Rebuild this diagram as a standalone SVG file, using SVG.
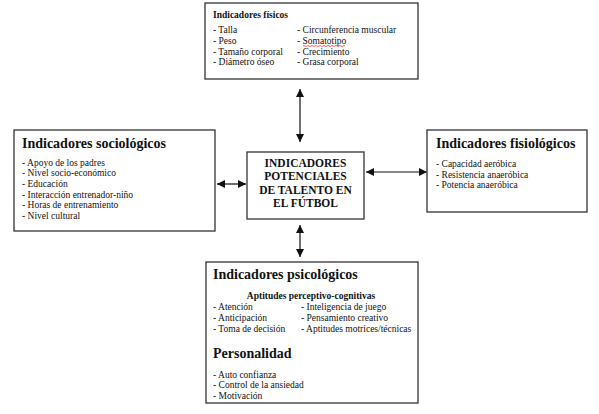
<svg xmlns="http://www.w3.org/2000/svg" width="599" height="414" viewBox="0 0 599 414">
<defs>
<style>
.box{fill:#fff;stroke:#333;stroke-width:1.3}
text{font-family:"Liberation Serif","Times New Roman",serif;fill:#111}
.it{font-size:9.5px}
.t1{font-size:14px;font-weight:bold}
.t2{font-size:9.5px;font-weight:bold}
.c{font-size:11.5px;font-weight:bold;text-anchor:middle}
.con{stroke:#111;stroke-width:1.2;fill:none;marker-start:url(#ah);marker-end:url(#ah)}
</style>
<marker id="ah" viewBox="0 0 10 10" refX="10" refY="5" markerWidth="8" markerHeight="8" markerUnits="userSpaceOnUse" orient="auto-start-reverse">
<path d="M0,0 L10,5 L0,10 Z" fill="#111"/>
</marker>
</defs>
<rect width="599" height="414" fill="#fff"/>
<g id="connectors">
<line class="con" x1="300" y1="89" x2="300" y2="142"/>
<line class="con" x1="300" y1="225" x2="300" y2="257"/>
<line class="con" x1="217" y1="184" x2="246" y2="184"/>
<line class="con" x1="366" y1="172" x2="427" y2="172"/>
</g>
<g id="fisicos">
<rect class="box" x="205" y="3" width="213" height="76"/>
<text class="t2" x="213" y="18">Indicadores físicos</text>
<text class="it" x="213" y="33">- Talla</text>
<text class="it" x="213" y="44">- Peso</text>
<text class="it" x="213" y="54.5">- Tamaño corporal</text>
<text class="it" x="213" y="65">- Diámetro óseo</text>
<text class="it" x="297" y="33">- Circunferencia muscular</text>
<text class="it" x="297" y="44">- Somatotipo</text>
<path d="M303,46 q1,-1 2,0 t2,0 t2,0 t2,0 t2,0 t2,0 t2,0 t2,0 t2,0 t2,0 t2,0 t2,0 t2,0 t2,0 t2,0 t2,0 t2,0 t2,0 t2,0 t2,0 t2,0" fill="none" stroke="#d22" stroke-width="0.7"/>
<text class="it" x="297" y="54.5">- Crecimiento</text>
<text class="it" x="297" y="65">- Grasa corporal</text>
</g>
<g id="sociologicos">
<rect class="box" x="14" y="130" width="201" height="101"/>
<text class="t1" x="22" y="148">Indicadores sociológicos</text>
<text class="it" x="22" y="165.5">- Apoyo de los padres</text>
<text class="it" x="22" y="176">- Nivel socio-económico</text>
<text class="it" x="22" y="186.5">- Educación</text>
<text class="it" x="22" y="197.5">- Interacción entrenador-niño</text>
<text class="it" x="22" y="208">- Horas de entrenamiento</text>
<text class="it" x="22" y="219">- Nivel cultural</text>
</g>
<g id="central">
<rect class="box" x="247" y="152" width="117" height="67"/>
<text class="c" x="305.5" y="167">INDICADORES</text>
<text class="c" x="305.5" y="180">POTENCIALES</text>
<text class="c" x="305.5" y="193.5">DE TALENTO EN</text>
<text class="c" x="305.5" y="206.5">EL FÚTBOL</text>
</g>
<g id="fisiologicos">
<rect class="box" x="427" y="130" width="160" height="82"/>
<text class="t1" x="436" y="148">Indicadores fisiológicos</text>
<text class="it" x="436" y="166.5">- Capacidad aeróbica</text>
<text class="it" x="436" y="177.5">- Resistencia anaeróbica</text>
<text class="it" x="436" y="188">- Potencia anaeróbica</text>
</g>
<g id="psicologicos">
<rect class="box" x="206" y="262" width="212" height="141"/>
<text class="t1" x="213" y="279">Indicadores psicológicos</text>
<text class="t2" x="311" y="299" text-anchor="middle">Aptitudes perceptivo-cognitivas</text>
<text class="it" x="213" y="310">- Atención</text>
<text class="it" x="213" y="321">- Anticipación</text>
<text class="it" x="213" y="331.5">- Toma de decisión</text>
<text class="it" x="301" y="310">- Inteligencia de juego</text>
<text class="it" x="301" y="321">- Pensamiento creativo</text>
<text class="it" x="301" y="331.5">- Aptitudes motrices/técnicas</text>
<text class="t1" x="213" y="357.5">Personalidad</text>
<text class="it" x="213" y="377.5">- Auto confianza</text>
<text class="it" x="213" y="388">- Control de la ansiedad</text>
<text class="it" x="213" y="398.5">- Motivación</text>
</g>
</svg>
